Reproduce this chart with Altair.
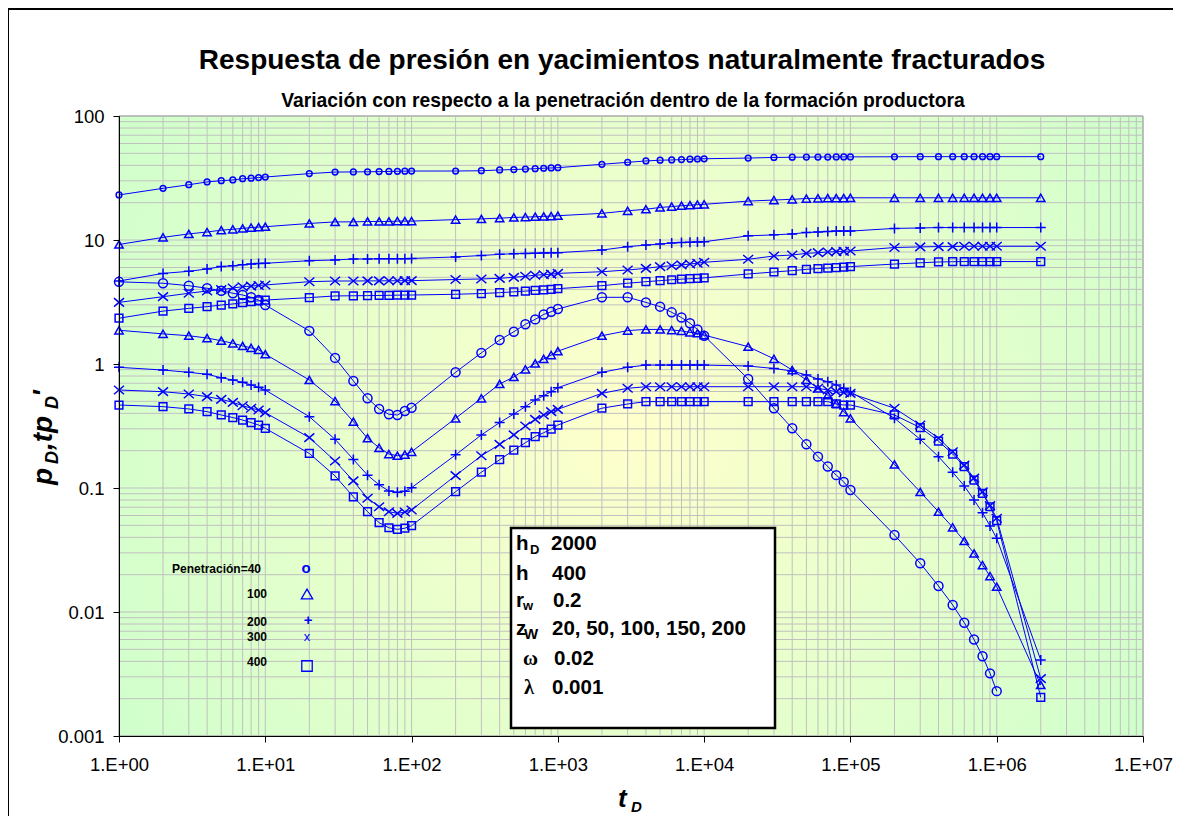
import altair as alt
import pandas as pd

# ---------------- data ----------------
t_D = [1, 2, 3, 4, 5, 6, 7, 8, 9, 10,
       20, 30, 40, 50, 60, 70, 80, 90, 100,
       200, 300, 400, 500, 600, 700, 800, 900, 1000,
       2000, 3000, 4000, 5000, 6000, 7000, 8000, 9000, 10000,
       20000, 30000, 40000, 50000, 60000, 70000, 80000, 90000, 100000,
       200000, 300000, 400000, 500000, 600000, 700000, 800000, 900000, 1000000,
       2000000]

p40 = [23.1, 26.1, 27.9, 29.4, 30.1, 30.5, 31.2, 31.5, 31.9, 32.2,
       34.3, 35.3, 35.4, 35.5, 35.6, 35.7, 35.8, 35.9, 36.0,
       36.0, 36.2, 36.7, 37.0, 37.3, 37.6, 37.9, 38.1, 38.3,
       40.8, 42.3, 43.4, 44.0, 44.2, 44.5, 44.8, 45.0, 45.2,
       45.8, 46.3, 46.5, 46.6, 46.7, 46.7, 46.8, 46.8, 46.8,
       46.9, 47.0, 47.0, 47.0, 47.0, 47.0, 47.0, 47.0, 47.0,
       47.0]
d40 = [4.60, 4.48, 4.28, 4.08, 3.90, 3.72, 3.60, 3.45, 3.28, 2.99,
       1.85, 1.12, 0.73, 0.53, 0.434, 0.393, 0.388, 0.418, 0.444,
       0.857, 1.23, 1.56, 1.82, 2.09, 2.29, 2.51, 2.64, 2.78,
       3.45, 3.45, 3.14, 2.90, 2.61, 2.37, 2.13, 1.90, 1.69,
       0.757, 0.44, 0.303, 0.225, 0.179, 0.149, 0.127, 0.112, 0.0964,
       0.0418, 0.0247, 0.0162, 0.0114, 0.0082, 0.0060, 0.0044, 0.0032, 0.0023,
       None]
p100 = [9.2, 10.5, 11.2, 11.6, 12.0, 12.2, 12.4, 12.6, 12.7, 12.8,
        13.6, 14.0, 14.0, 14.1, 14.1, 14.1, 14.2, 14.2, 14.2,
        14.6, 14.8, 15.0, 15.2, 15.3, 15.4, 15.5, 15.6, 15.7,
        16.4, 17.2, 17.7, 18.3, 18.6, 18.9, 19.1, 19.3, 19.4,
        20.6, 21.0, 21.3, 21.6, 21.7, 21.8, 21.8, 21.8, 21.9,
        21.9, 21.9, 21.9, 21.9, 21.9, 21.9, 21.9, 21.9, 21.9,
        21.9]
d100 = [1.87, 1.75, 1.69, 1.62, 1.54, 1.47, 1.40, 1.35, 1.30, 1.20,
        0.743, 0.503, 0.343, 0.252, 0.211, 0.188, 0.182, 0.186, 0.196,
        0.365, 0.529, 0.69, 0.786, 0.906, 1.01, 1.10, 1.18, 1.27,
        1.69, 1.86, 1.90, 1.90, 1.88, 1.85, 1.80, 1.77, 1.71,
        1.38, 1.10, 0.894, 0.743, 0.637, 0.56, 0.48, 0.41, 0.365,
        0.155, 0.093, 0.0644, 0.0482, 0.0374, 0.0297, 0.0239, 0.0195, 0.016,
        0.00258]
p200 = [4.67, 5.38, 5.59, 5.84, 6.10, 6.20, 6.32, 6.40, 6.45, 6.49,
        6.81, 6.90, 7.03, 7.03, 7.05, 7.05, 7.07, 7.07, 7.10,
        7.30, 7.50, 7.66, 7.75, 7.80, 7.83, 7.86, 7.88, 7.90,
        8.30, 8.83, 9.10, 9.29, 9.45, 9.55, 9.60, 9.65, 9.68,
        10.8, 11.0, 11.2, 11.5, 11.6, 11.7, 11.8, 11.8, 11.8,
        12.4, 12.5, 12.6, 12.6, 12.6, 12.6, 12.6, 12.6, 12.6,
        12.6]
d200 = [0.94, 0.894, 0.857, 0.826, 0.775, 0.743, 0.711, 0.677, 0.648, 0.617,
        0.376, 0.247, 0.170, 0.127, 0.106, 0.0946, 0.0922, 0.094, 0.1006,
        0.185, 0.268, 0.337, 0.395, 0.453, 0.513, 0.555, 0.598, 0.644,
        0.857, 0.94, 0.98, 0.98, 0.98, 0.98, 0.98, 0.98, 0.98,
        0.963, 0.92, 0.878, 0.815, 0.757, 0.72, 0.677, 0.637, 0.598,
        0.365, 0.247, 0.179, 0.134, 0.104, 0.080, 0.0632, 0.0494, 0.0393,
        0.0041]
p300 = [3.14, 3.49, 3.72, 3.88, 3.98, 4.10, 4.20, 4.25, 4.30, 4.34,
        4.61, 4.67, 4.67, 4.68, 4.68, 4.69, 4.69, 4.70, 4.70,
        4.80, 4.85, 4.91, 5.00, 5.10, 5.20, 5.25, 5.30, 5.38,
        5.55, 5.73, 5.91, 6.10, 6.20, 6.30, 6.40, 6.50, 6.61,
        6.99, 7.43, 7.57, 7.80, 7.90, 8.00, 8.05, 8.10, 8.15,
        8.70, 8.80, 8.85, 8.85, 8.90, 8.90, 8.90, 8.90, 8.90,
        8.90]
d300 = [0.617, 0.598, 0.573, 0.545, 0.519, 0.491, 0.461, 0.44, 0.426, 0.405,
        0.255, 0.165, 0.114, 0.0826, 0.0706, 0.0644, 0.0624, 0.064, 0.0665,
        0.126, 0.182, 0.225, 0.268, 0.316, 0.358, 0.388, 0.413, 0.431,
        0.58, 0.637, 0.656, 0.656, 0.656, 0.656, 0.656, 0.656, 0.656,
        0.656, 0.656, 0.656, 0.656, 0.637, 0.617, 0.598, 0.587, 0.58,
        0.44, 0.322, 0.252, 0.196, 0.153, 0.12, 0.093, 0.072, 0.057,
        0.0029]
p400 = [2.34, 2.67, 2.81, 2.90, 2.99, 3.05, 3.12, 3.18, 3.23, 3.28,
        3.43, 3.54, 3.55, 3.56, 3.57, 3.58, 3.59, 3.60, 3.60,
        3.65, 3.70, 3.76, 3.82, 3.87, 3.92, 3.96, 4.00, 4.05,
        4.28, 4.48, 4.61, 4.70, 4.78, 4.83, 4.87, 4.90, 4.95,
        5.32, 5.52, 5.66, 5.80, 5.88, 5.94, 6.00, 6.05, 6.10,
        6.40, 6.55, 6.65, 6.68, 6.70, 6.70, 6.70, 6.70, 6.70,
        6.70]
d400 = [0.467, 0.453, 0.434, 0.413, 0.388, 0.370, 0.353, 0.337, 0.322, 0.303,
        0.19, 0.125, 0.085, 0.0644, 0.0525, 0.0478, 0.0464, 0.0474, 0.0497,
        0.0934, 0.134, 0.169, 0.202, 0.232, 0.26, 0.279, 0.299, 0.322,
        0.44, 0.476, 0.497, 0.497, 0.497, 0.497, 0.497, 0.497, 0.497,
        0.497, 0.497, 0.497, 0.497, 0.497, 0.497, 0.476, 0.467, 0.467,
        0.388, 0.307, 0.239, 0.188, 0.149, 0.116, 0.0906, 0.0706, 0.0545,
        0.00205]

series = [
    ("p40", "circle", 33, p40), ("d40", "circle", 80, d40),
    ("p100", "triangle", 70, p100), ("d100", "triangle", 70, d100),
    ("p200", "plus", 100, p200), ("d200", "plus", 100, d200),
    ("p300", "x", 100, p300), ("d300", "x", 100, d300),
    ("p400", "square", 60, p400), ("d400", "square", 60, d400),
]

x_ticks = [1, 2, 3, 4, 5, 6, 7, 8, 9, 10, 20, 30, 40, 50, 60, 70, 80, 90,
           100, 200, 300, 400, 500, 600, 700, 800, 900,
           1000, 2000, 3000, 4000, 5000, 6000, 7000, 8000, 9000,
           10000, 20000, 30000, 40000, 50000, 60000, 70000, 80000, 90000,
           100000, 200000, 300000, 400000, 500000, 600000, 700000, 800000, 900000,
           1000000, 2000000, 3000000, 4000000, 5000000, 6000000, 7000000, 8000000, 9000000,
           10000000]
y_ticks = [0.001, 0.002, 0.003, 0.004, 0.005, 0.006, 0.007, 0.008, 0.009,
           0.01, 0.02, 0.03, 0.04, 0.05, 0.06, 0.07, 0.08, 0.09,
           0.1, 0.2, 0.3, 0.4, 0.5, 0.6, 0.7, 0.8, 0.9,
           1, 2, 3, 4, 5, 6, 7, 8, 9, 10, 20, 30, 40, 50, 60, 70, 80, 90, 100]
x_labels = [1, 10, 100, 1000, 10000, 100000, 1000000, 10000000]
y_labels = [0.001, 0.01, 0.1, 1, 10, 100]

rows = []
for name, marker, msize, vals in series:
    for t, v in zip(t_D, vals):
        if v is not None:
            rows.append({"t": t, "v": v, "series": name, "marker": marker, "msize": msize})
df = pd.DataFrame(rows)

# ---------------- styling ----------------
BLUE = "#0000FF"
FONT = "Liberation Sans"
W, H = 1024, 620
GRID = "#C0C0C0"

x_axis = alt.Axis(
    values=x_labels, title=None, grid=False, zindex=2,
    domainColor="black", domainWidth=1, tickColor="black", tickSize=6,
    labelExpr="'1.E+0' + round(log(datum.value)/LN10)",
    labelFont=FONT, labelFontSize=18.5, labelColor="black", labelPadding=13,
    labelOverlap=False, labelFlush=False, labelBound=False,
)
y_axis = alt.Axis(
    values=y_labels, title=None, grid=False, zindex=2,
    domainColor="black", domainWidth=1, tickColor="black", tickSize=6,
    labelExpr="format(datum.value, '')",
    labelFont=FONT, labelFontSize=18.5, labelColor="black", labelPadding=9,
    labelOverlap=False, labelFlush=False, labelBound=False,
)

xs = alt.Scale(type="log", domain=[1, 10000000], nice=False)
ys = alt.Scale(type="log", domain=[0.001, 100], nice=False)
X = alt.X("t:Q", scale=xs, axis=x_axis)
Y = alt.Y("v:Q", scale=ys, axis=y_axis)

one = pd.DataFrame({"a": [0]})

# background gradient
bg = alt.Chart(one).mark_rect(
    fill={"gradient": "radial", "x1": 0.5, "y1": 0.5, "r1": 0,
          "x2": 0.5, "y2": 0.5, "r2": 0.62,
          "stops": [{"offset": 0, "color": "#FFFFCC"},
                    {"offset": 1, "color": "#CCFFCC"}]},
    stroke="#808080", strokeWidth=1,
).encode(x=alt.value(0), x2=alt.value(W), y=alt.value(0), y2=alt.value(H))

xgrid = alt.Chart(pd.DataFrame({"t": x_ticks})).mark_rule(
    color=GRID, strokeWidth=1).encode(x=X)
ygrid = alt.Chart(pd.DataFrame({"v": y_ticks})).mark_rule(
    color=GRID, strokeWidth=1).encode(y=Y)

base = alt.Chart(df).encode(x=X, y=Y)
lines = base.mark_line(color=BLUE, strokeWidth=1).encode(
    detail="series:N", order="t:Q")
points = base.mark_point(filled=False, color=BLUE, strokeWidth=1.5, opacity=1).encode(
    shape=alt.Shape("marker:N", legend=None, scale=alt.Scale(
        domain=["circle", "triangle", "plus", "x", "square"],
        range=["circle", "triangle-up", "M-1,0H1M0,-1V1",
               "M-1,-0.85L1,0.85M-1,0.85L1,-0.85", "square"])),
    size=alt.Size("msize:Q", scale=None, legend=None),
)


def txt(text, x, y, size, weight="bold", style="normal", align="left",
        color="black", font=FONT, angle=0, baseline="alphabetic"):
    kw = dict(align=align, baseline=baseline, fontSize=size, fontWeight=weight,
              fontStyle=style, font=font, color=color)
    if angle:
        kw["angle"] = angle
    return alt.Chart(one).mark_text(**kw).encode(
        x=alt.value(x), y=alt.value(y), text=alt.value(text))


layers = [bg, xgrid, ygrid, lines, points]

# outer border of the whole chart (top and left edges only are in view)
layers.append(alt.Chart(one).mark_rule(color="black", strokeWidth=2).encode(
    x=alt.value(-111), x2=alt.value(1100), y=alt.value(-107)))
layers.append(alt.Chart(one).mark_rule(color="black", strokeWidth=2).encode(
    x=alt.value(-111), y=alt.value(-108), y2=alt.value(800)))

# titles
layers.append(txt("Respuesta de presión en yacimientos naturalmente fracturados",
                  503, -47, 28, align="center"))
layers.append(txt("Variación con respecto a la penetración dentro de la formación productora",
                  504, -9, 19.3, align="center"))

# x title
layers.append(txt("t", 499, 691, 26, style="italic"))
layers.append(txt("D", 512, 696, 15, style="italic"))

# y title (rotated)
layers.append(txt("p", -67, 369, 28, style="italic", angle=270))
layers.append(txt("D", -61, 348, 18, style="italic", angle=270))
layers.append(txt(",tp", -67, 334, 28, style="italic", angle=270))
layers.append(txt("D", -61, 293, 18, style="italic", angle=270))
layers.append(txt("'", -67, 281, 28, style="italic", angle=270))

# legend
layers.append(txt("Penetración=40", 53, 457, 12))
layers.append(txt("100", 128, 482, 12))
layers.append(txt("200", 128, 510, 12))
layers.append(txt("300", 128, 525, 12))
layers.append(txt("400", 128, 550, 12))
layers.append(txt("o", 187, 457, 15, align="center", color=BLUE))
layers.append(txt("+", 189, 509, 15, align="center", color=BLUE))
layers.append(txt("x", 188, 525, 13, weight="normal", align="center", color=BLUE))
layers.append(alt.Chart(one).mark_point(shape="triangle-up", filled=False, color=BLUE,
                                        strokeWidth=1.3, size=130, opacity=1).encode(
    x=alt.value(188), y=alt.value(478)))
layers.append(alt.Chart(one).mark_point(shape="square", filled=False, color=BLUE,
                                        strokeWidth=1.3, size=110, opacity=1).encode(
    x=alt.value(188), y=alt.value(550)))

# parameter box
layers.append(alt.Chart(one).mark_rect(fill="white", stroke="black", strokeWidth=2.5).encode(
    x=alt.value(392), x2=alt.value(656), y=alt.value(412), y2=alt.value(612)))
layers.append(txt("h", 397, 434, 20.5))
layers.append(txt("D", 411, 438, 13))
layers.append(txt("2000", 432, 434, 20.5))
layers.append(txt("h", 397, 464, 20.5))
layers.append(txt("400", 433, 464, 20.5))
layers.append(txt("r", 397, 491, 20.5))
layers.append(txt("w", 404, 494, 13))
layers.append(txt("0.2", 434, 491, 20.5))
layers.append(txt("z", 397, 519, 20.5))
layers.append(txt("W", 405, 523, 15))
layers.append(txt("20, 50, 100, 150, 200", 433, 519, 20.5))
layers.append(txt("ω", 404, 549, 20.5, font="Liberation Serif"))
layers.append(txt("0.02", 435, 549, 20.5))
layers.append(txt("λ", 405, 578, 20.5, font="Liberation Serif"))
layers.append(txt("0.001", 433, 578, 20.5))

chart = alt.layer(*layers).properties(
    width=W, height=H,
    autosize=alt.AutoSizeParams(type="none"),
    padding={"left": 111, "top": 108, "right": 30, "bottom": 80},
    background="white",
).configure_view(stroke=None)

chart.save("out.html", embed_options={"renderer": "svg", "actions": False})
